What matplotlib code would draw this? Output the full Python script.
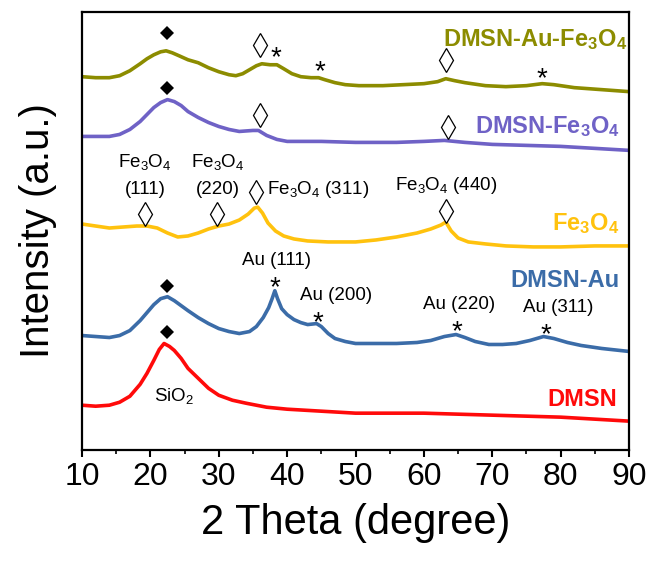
import numpy as np
import matplotlib
matplotlib.use("Agg")
import matplotlib.pyplot as plt

plt.rcParams['font.family'] = ['Liberation Sans', 'DejaVu Sans']
plt.rcParams['mathtext.fontset'] = 'custom'
plt.rcParams['mathtext.rm'] = 'Liberation Sans'
plt.rcParams['mathtext.it'] = 'Liberation Sans:italic'
plt.rcParams['mathtext.bf'] = 'Liberation Sans:bold'

# XRD patterns, already stacked with offsets (a.u.)
dmsn_2t = [10, 12, 14, 15.5, 17, 18.5, 19.5, 20.5, 21.3, 22, 22.8, 23.5, 24.5, 25.5,
           27, 28.5, 30, 32, 34, 37, 40, 45, 50, 55, 60, 65, 70, 75, 80, 85, 90]
dmsn_i = [45, 44, 45, 48, 54, 66, 77, 90, 101, 107, 104, 100, 92, 82,
          72, 62, 55, 50, 47, 43, 41, 39, 37, 37, 37, 36, 35, 34, 33, 31, 29]

au_2t = [10, 12, 14, 15.5, 17, 18.5, 19.5, 20.5, 21.5, 22.5, 23.5, 24.5, 25.5, 27,
         28.5, 30, 31.5, 33, 34.5, 35.5, 36.5, 37.3, 37.8, 38.2, 38.6, 39.2, 40,
         41, 42, 43, 44.3, 45, 46, 47, 48.5, 50, 53, 56, 59, 61, 63, 64.7, 66,
         67.5, 69.5, 71.5, 73.5, 75.5, 77.5, 79, 81, 83, 86, 90]
au_i = [115, 114, 113, 115, 120, 130, 138, 146, 152, 154, 150, 145, 140, 133,
        127, 122, 119, 117, 119, 124, 133, 143, 152, 160, 152, 142, 136,
        131, 128, 126, 127, 124, 117, 112, 109, 107, 107, 107, 108, 110, 114, 116, 113,
        109, 106, 106, 107, 110, 114, 112, 108, 105, 102, 99]

fe_2t = [10, 12, 14, 16, 18, 19.5, 21, 22.5, 24, 25.5, 27, 28.5, 30, 31.5, 33, 34.3,
         35.2, 35.7, 36.4, 37.2, 38.3, 39.5, 41, 43, 46, 50, 53, 56, 59, 61, 62.5,
         63.2, 64, 65, 66.5, 69, 72, 76, 80, 85, 90]
fe_i = [227, 225, 223, 224, 225, 225, 223, 218, 214, 215, 218, 222, 225, 227, 231, 237,
        243, 244, 238, 228, 220, 215, 212, 210, 209, 209, 211, 214, 218, 222, 226,
        229, 220, 213, 209, 207, 205, 204, 204, 205, 205]

dfe_2t = [10, 12, 14, 15.5, 17, 18.5, 19.5, 20.5, 21.5, 22.5, 23.5, 24.5, 25.5, 27,
          28.5, 30, 31.5, 33, 35, 35.8, 37, 38.5, 40, 45, 50, 56, 60, 63, 66, 70,
          75, 80, 85, 90]
dfe_i = [315, 315, 315, 317, 322, 330, 337, 344, 349, 352, 350, 346, 340, 334,
         329, 325, 322, 320, 321, 321, 316, 312, 310, 310, 309, 309, 310, 311, 309, 307,
         306, 305, 303, 301]

aufe_2t = [10, 12, 14, 15.5, 17, 18.5, 19.5, 20.5, 21.5, 22.3, 23.2, 24.2, 25.5, 27,
           28.5, 30, 31.5, 32.5, 33.5, 34.5, 35.5, 36.3, 37.5, 38.5, 39.5, 40.7, 42,
           43.5, 44.6, 45.5, 47, 48.5, 50.5, 54, 57, 60, 62, 63.2, 64.5, 66, 69, 72,
           75, 77.3, 79, 82, 86, 90]
aufe_i = [375, 374, 374, 376, 381, 388, 393, 397, 400, 401, 399, 396, 392, 389,
          384, 380, 377, 376, 378, 382, 386, 388, 387, 387, 383, 378, 375,
          374, 374, 372, 369, 367, 366, 366, 367, 368, 370, 373, 371, 369, 366, 365,
          366, 368, 367, 364, 362, 360]

series = [
    (dmsn_2t, dmsn_i, '#ff0a0a'),
    (au_2t, au_i, '#3b6ca8'),
    (fe_2t, fe_i, '#ffc20e'),
    (dfe_2t, dfe_i, '#6f62c6'),
    (aufe_2t, aufe_i, '#8c8c00'),
]

# reflection markers
filled_x = [22.5, 22.5, 22.5, 22.5]
filled_y = [419, 364, 165, 119]
open_x = [36.0, 63.2, 36.0, 63.5, 19.2, 29.8, 35.4, 63.3]
open_y = [407, 392, 337, 324, 237, 237, 259, 240]
star_x = [38.3, 44.8, 77.3, 38.2, 44.5, 64.8, 77.8]
star_y = [400, 386, 379, 169, 134, 125, 122]

fig = plt.figure(figsize=(6.54, 5.63), dpi=100)
ax = fig.add_axes([0.1254, 0.2007, 0.8364, 0.7780])

for x, y, c in series:
    ax.plot(x, y, color=c, lw=2.6, solid_joinstyle='round')

ax.plot(filled_x, filled_y, 'D', color='black', ms=7.5, mew=0)
ax.plot(open_x, open_y, 'd', mfc='white', mec='black', ms=12.5, mew=0.9)
for x, y in zip(star_x, star_y):
    ax.annotate('*', (x, y), xytext=(0, -4.5), textcoords='offset points',
                fontsize=20, ha='center', va='center')

# peak labels
fs = 13.5
ax.text(19.2, 289, r'Fe$_3$O$_4$', fontsize=fs, ha='center', va='center')
ax.text(19.2, 262, '(111)', fontsize=fs, ha='center', va='center')
ax.text(29.8, 289, r'Fe$_3$O$_4$', fontsize=fs, ha='center', va='center')
ax.text(29.8, 262, '(220)', fontsize=fs, ha='center', va='center')
ax.text(37.0, 262, r'Fe$_3$O$_4$ (311)', fontsize=fs, ha='left', va='center')
ax.text(63.2, 266, r'Fe$_3$O$_4$ (440)', fontsize=fs, ha='center', va='center')
ax.text(38.4, 190, 'Au (111)', fontsize=fs, ha='center', va='center')
ax.text(47.1, 155, 'Au (200)', fontsize=fs, ha='center', va='center')
ax.text(65.1, 146, 'Au (220)', fontsize=fs, ha='center', va='center')
ax.text(79.7, 143, 'Au (311)', fontsize=fs, ha='center', va='center')
ax.text(23.5, 54, r'SiO$_2$', fontsize=fs, ha='center', va='center')

# sample names
nfs = 17
ax.text(89.8, 412, r'DMSN-Au-$\mathbf{Fe_3O_4}$', color='#8c8c00', fontsize=nfs,
        fontweight='bold', ha='right', va='center')
ax.text(88.6, 325, r'DMSN-$\mathbf{Fe_3O_4}$', color='#6f62c6', fontsize=nfs,
        fontweight='bold', ha='right', va='center')
ax.text(88.6, 227, r'$\mathbf{Fe_3O_4}$', color='#ffc20e', fontsize=nfs,
        fontweight='bold', ha='right', va='center')
ax.text(88.6, 170, 'DMSN-Au', color='#3b6ca8', fontsize=nfs,
        fontweight='bold', ha='right', va='center')
ax.text(88.2, 51, 'DMSN', color='#ff0a0a', fontsize=nfs,
        fontweight='bold', ha='right', va='center')

ax.set_xlim(10, 90)
ax.set_ylim(0, 440)
ax.set_xticks(np.arange(10, 91, 10))
ax.set_xticks(np.arange(15, 90, 10), minor=True)
ax.set_yticks([])
ax.tick_params(axis='x', which='major', direction='out', length=5, width=1.5,
               labelsize=23, pad=3.5)
ax.tick_params(axis='x', which='minor', direction='out', length=3, width=1.2)
for s in ax.spines.values():
    s.set_linewidth(1.6)

ax.set_xlabel('2 Theta (degree)', fontsize=30, labelpad=8)
ax.set_ylabel('Intensity (a.u.)', fontsize=29, labelpad=18)

plt.savefig('out.png', dpi=100)
